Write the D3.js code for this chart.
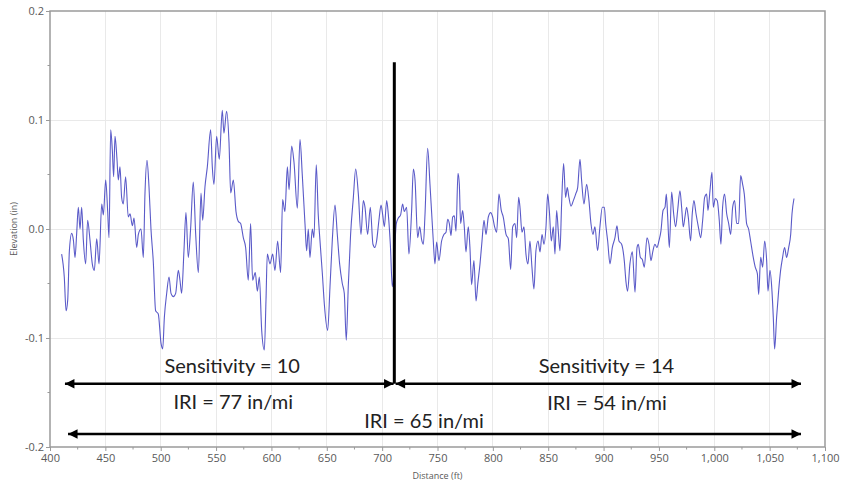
<!DOCTYPE html>
<html>
<head>
<meta charset="utf-8">
<script src="https://cdn.jsdelivr.net/npm/d3@7"></script>
<style>
  html, body { margin: 0; padding: 0; background: #fff; }
  svg { display: block; }
</style>
</head>
<body>
<svg id="chart" width="842" height="484"></svg>
<script>
// ---- Data ----
const distance = [
410.5,412.9,414.5,416.0,417.5,419.6,421.1,422.6,424.1,425.6,427.1,428.6,430.1,432.2,434.0,436.1,438.2,440.0,442.2,444.3,
446.7,448.2,450.3,452.1,453.3,454.8,456.3,457.5,458.7,460.5,461.7,463.2,464.7,466.2,468.3,470.7,472.3,474.4,475.9,478.3,
479.8,482.2,484.3,485.8,487.6,489.4,491.2,493.3,495.4,497.8,500.3,501.8,503.3,505.4,507.5,509.3,511.4,513.5,515.9,
517.4,518.9,521.0,522.8,524.9,527.0,529.4,531.6,534.0,536.4,537.9,540.0,542.1,545.1,546.6,548.1,550.5,552.9,555.6,557.1,
559.5,561.7,563.2,565.6,568.0,570.1,572.2,574.6,576.7,579.1,581.2,583.0,585.4,587.3,589.1,591.2,593.6,595.1,596.3,598.7,
601.1,603.2,605.6,608.3,610.1,612.2,614.4,615.9,618.3,620.4,623.4,625.8,627.9,
630.3,631.8,633.3,634.8,636.9,638.4,640.5,642.3,643.8,646.0,647.8,650.8,652.9,655.0,657.4,659.5,661.6,664.0,665.8,667.6,
669.4,671.5,674.0,676.1,678.5,680.9,683.0,684.5,686.9,689.3,691.7,693.5,695.0,697.1,699.0,700.5,702.0,704.1,705.6,707.4,
709.2,712.8,714.6,716.7,718.5,720.0,722.1,724.2,726.6,728.2,729.7,732.1,733.9,735.7,737.2,738.7,741.1,
743.2,744.7,746.2,747.7,749.2,751.3,753.7,755.8,757.7,759.2,760.7,762.2,763.7,765.2,766.7,768.5,769.7,770.9,772.7,774.2,
775.7,777.8,779.3,780.8,782.9,784.8,786.3,788.4,790.2,792.0,793.8,795.9,798.0,799.8,801.6,803.4,805.5,807.6,809.4,811.9,
814.0,816.1,817.9,820.0,821.5,823.3,824.5,826.3,828.1,829.9,831.7,833.5,835.3,837.1,838.9,840.8,842.6,844.4,846.2,848.0,
849.5,851.0,852.8,854.6,
856.1,857.6,859.1,860.6,862.1,863.9,865.7,867.2,868.7,870.6,872.7,874.8,876.6,878.7,880.2,882.3,884.7,886.8,888.6,890.4,
892.2,894.6,896.7,898.9,900.7,901.9,903.7,905.8,907.9,910.3,912.1,913.9,916.3,918.7,920.2,921.7,923.8,926.0,928.4,930.2,
931.4,933.2,935.0,936.8,939.2,941.0,942.8,944.6,946.4,948.2,950.0,951.8,953.7,955.5,956.7,957.9,959.4,961.5,963.3,965.1,
966.9,
969.0,970.5,972.0,973.5,975.0,976.5,978.6,980.1,981.6,983.5,985.6,987.7,989.5,991.3,993.1,994.3,996.1,997.9,999.1,1000.9,
1002.7,1004.5,1006.0,1007.5,1009.3,1011.2,1013.0,1014.8,1016.6,1018.4,1020.2,1022.0,1023.8,1025.6,1027.1,1029.2,1031.0,1032.8,1035.2,1037.0,
1038.9,1040.1,1041.9,1043.7,1045.5,1047.3,1048.5,1050.3,1052.1,1053.3,1054.5,1056.3,1058.1,1059.9,1061.7,1063.5,1065.3,1067.2,1069.0,1070.2,
1072.0
];
const elevation = [
-0.023,-0.044,-0.075,-0.065,-0.020,-0.004,-0.010,-0.026,-0.004,0.020,0.000,0.020,-0.010,-0.032,0.008,-0.010,-0.032,-0.038,-0.009,-0.032,
0.023,0.013,0.045,0.016,-0.008,0.091,0.072,0.048,0.085,0.064,0.045,0.057,0.029,0.023,0.048,0.011,0.014,0.003,0.010,-0.017,
-0.005,0.000,-0.026,0.033,0.063,0.039,0.000,-0.030,-0.075,-0.078,-0.105,-0.110,-0.081,-0.059,-0.044,-0.059,-0.062,-0.059,-0.038,
-0.047,-0.059,-0.020,0.015,-0.026,0.000,0.043,-0.005,-0.040,0.033,0.008,0.039,0.057,0.091,0.057,0.041,0.085,0.064,0.109,0.088,
0.108,0.079,0.033,0.045,0.016,0.007,0.005,-0.008,-0.017,-0.047,0.005,-0.047,-0.040,-0.057,-0.044,-0.093,-0.111,-0.065,-0.023,-0.032,
-0.023,-0.038,-0.011,-0.040,0.027,0.016,0.057,0.036,0.076,0.061,0.019,0.082,0.049,
0.005,-0.020,0.000,-0.026,0.000,-0.008,0.059,0.013,-0.010,-0.041,-0.069,-0.093,-0.053,-0.010,0.022,-0.005,-0.032,-0.050,-0.059,-0.102,
-0.053,-0.005,0.029,0.055,0.032,-0.005,0.026,0.020,-0.005,0.020,-0.014,-0.017,-0.011,0.008,0.022,0.013,0.002,0.026,0.013,-0.014,
-0.053,0.005,0.010,0.013,0.023,0.016,0.020,-0.023,0.016,0.055,0.045,-0.008,0.002,-0.010,-0.014,0.013,0.074,
0.041,0.015,-0.011,-0.032,-0.012,-0.029,-0.011,-0.005,-0.003,0.009,0.005,-0.006,0.011,0.012,-0.002,0.051,0.041,0.005,0.017,0.002,
-0.021,0.002,-0.017,-0.051,-0.029,-0.066,-0.051,-0.032,-0.011,0.008,-0.005,0.011,0.015,0.011,0.002,-0.003,0.032,0.017,0.011,-0.005,
-0.009,-0.037,0.002,0.005,-0.008,0.029,0.020,-0.003,0.002,-0.023,-0.032,-0.011,-0.035,-0.055,-0.020,-0.011,-0.021,-0.005,-0.014,0.002,
0.032,0.017,-0.011,0.002,
-0.023,0.017,-0.002,-0.020,0.023,0.060,0.029,0.038,0.029,0.021,0.026,0.032,0.038,0.064,0.044,0.023,0.041,0.026,0.005,-0.005,
0.002,-0.020,0.002,0.020,0.020,0.005,-0.011,-0.032,-0.017,-0.008,0.003,-0.011,-0.014,-0.029,-0.048,-0.057,-0.032,-0.021,-0.058,-0.017,
-0.014,-0.026,-0.028,-0.035,-0.008,-0.014,-0.029,-0.020,-0.014,-0.017,-0.011,-0.002,0.017,0.020,0.032,0.011,-0.017,0.034,0.014,0.002,
0.017,
0.035,0.020,0.002,0.011,0.020,0.011,-0.011,0.014,0.026,0.014,0.002,-0.008,0.008,0.029,0.032,0.017,0.035,0.052,0.020,0.028,
0.026,0.008,-0.014,0.020,0.032,0.014,0.005,-0.005,0.020,0.026,0.005,0.005,0.049,0.041,0.032,0.005,0.000,-0.011,-0.026,-0.035,
-0.041,-0.060,-0.026,-0.035,-0.011,-0.029,-0.057,-0.038,-0.057,-0.081,-0.110,-0.081,-0.057,-0.038,-0.026,-0.017,-0.026,-0.017,-0.005,0.014,
0.028
];

const xTicks = [400,450,500,550,600,650,700,750,800,850,900,950,1000,1050,1100];
const xTickLabels = ["400","450","500","550","600","650","700","750","800","850","900","950","1,000","1,050","1,100"];
const yTicks = [0.2,0.1,0.0,-0.1,-0.2];
const yTickLabels = ["0.2","0.1","0.0","-0.1","-0.2"];
const xAxisTitle = "Distance (ft)";
const yAxisTitle = "Elevation (in)";

// annotations (data units)
const splitDistance = 711;
const splitTop = 0.153;
const arrowRows = [
  { y: -0.142, from: 413.5, to: 710.3 },
  { y: -0.142, from: 1078.3, to: 712.2 }
];
const totalArrow = { y: -0.188, from: 416.3, to: 1078.3 };
const labels = [
  { text: "Sensitivity = 10", x: 564.5, y: -0.1325 },
  { text: "IRI = 77 in/mi",   x: 565.5, y: -0.1648 },
  { text: "IRI = 65 in/mi",   x: 737.8, y: -0.1825 },
  { text: "Sensitivity = 14", x: 902.6, y: -0.1322 },
  { text: "IRI = 54 in/mi",   x: 903.1, y: -0.1665 }
];

// ---- Layout ----
const W = 842, H = 484;
const margin = { top: 11, right: 17, bottom: 37, left: 50 };
const svg = d3.select("#chart");
const x = d3.scaleLinear().domain([400, 1100]).range([margin.left, W - margin.right]);
const y = d3.scaleLinear().domain([-0.2, 0.2]).range([H - margin.bottom, margin.top]);

const gridColor = "#e9e9e9";
const axisColor = "#9a9a9a";
const textColor = "#595959";

// grid
svg.append("g").selectAll("line.vg").data(xTicks.slice(1, -1)).join("line")
  .attr("x1", d => x(d)).attr("x2", d => x(d))
  .attr("y1", y(0.2)).attr("y2", y(-0.2))
  .attr("stroke", gridColor).attr("stroke-width", 1).attr("shape-rendering", "crispEdges");
svg.append("g").selectAll("line.hg").data(yTicks.slice(1, -1)).join("line")
  .attr("x1", x(400)).attr("x2", x(1100))
  .attr("y1", d => y(d)).attr("y2", d => y(d))
  .attr("stroke", gridColor).attr("stroke-width", 1).attr("shape-rendering", "crispEdges");

// frame
svg.append("rect")
  .attr("x", x(400)).attr("y", y(0.2))
  .attr("width", x(1100) - x(400)).attr("height", y(-0.2) - y(0.2))
  .attr("fill", "none").attr("stroke", axisColor).attr("stroke-width", 1.5);

// axes
const xAxis = d3.axisBottom(x).tickValues(xTicks)
  .tickFormat((d, i) => xTickLabels[i]).tickSize(4).tickPadding(3);
const gx = svg.append("g").attr("transform", `translate(0,${y(-0.2)})`).call(xAxis);
gx.select(".domain").remove();
gx.selectAll(".tick line").attr("stroke", axisColor);
gx.selectAll(".tick text").attr("fill", textColor)
  .style("font-family", "'Open Sans', 'Noto Sans', sans-serif").style("font-size", "11px");

const yAxis = d3.axisLeft(y).tickValues(yTicks)
  .tickFormat((d, i) => yTickLabels[i]).tickSize(4).tickPadding(2);
const gy = svg.append("g").attr("transform", `translate(${x(400)},0)`).call(yAxis);
gy.select(".domain").remove();
gy.selectAll(".tick line").attr("stroke", axisColor);
gy.selectAll(".tick text").attr("fill", textColor)
  .style("font-family", "'Open Sans', 'Noto Sans', sans-serif").style("font-size", "11px");

// minor ticks
const minorX = d3.range(425, 1100, 50);
svg.append("g").selectAll("line").data(minorX).join("line")
  .attr("x1", d => x(d)).attr("x2", d => x(d))
  .attr("y1", y(-0.2)).attr("y2", y(-0.2) + 2.5)
  .attr("stroke", axisColor);
const minorY = [0.15, 0.05, -0.05, -0.15];
svg.append("g").selectAll("line").data(minorY).join("line")
  .attr("x1", x(400) - 2.5).attr("x2", x(400))
  .attr("y1", d => y(d)).attr("y2", d => y(d))
  .attr("stroke", axisColor);

// axis titles
svg.append("text").attr("x", (x(400) + x(1100)) / 2).attr("y", H - 5)
  .attr("text-anchor", "middle").attr("fill", textColor)
  .style("font-family", "'Open Sans', 'Noto Sans', sans-serif").style("font-size", "9px")
  .text(xAxisTitle);
svg.append("text")
  .attr("transform", `translate(17,${(y(0.2) + y(-0.2)) / 2}) rotate(-90)`)
  .attr("text-anchor", "middle").attr("fill", textColor)
  .style("font-family", "'Open Sans', 'Noto Sans', sans-serif").style("font-size", "9px")
  .text(yAxisTitle);

// profile line
const pts = distance.map((d, i) => [d, elevation[i]]);
const line = d3.line().x(d => x(d[0])).y(d => y(d[1])).curve(d3.curveMonotoneX);
svg.append("path").datum(pts)
  .attr("d", line).attr("fill", "none")
  .attr("stroke", "#4848c2").attr("stroke-width", 1.1).attr("stroke-linejoin", "round")
  .attr("stroke-opacity", 0.9);

// split bar
svg.append("line")
  .attr("x1", x(splitDistance)).attr("x2", x(splitDistance))
  .attr("y1", y(splitTop)).attr("y2", y(arrowRows[0].y))
  .attr("stroke", "#000").attr("stroke-width", 3);

// arrows
svg.append("defs").append("marker")
  .attr("id", "head").attr("viewBox", "0 0 10 10")
  .attr("refX", 10).attr("refY", 5)
  .attr("markerWidth", 4.4).attr("markerHeight", 3.8)
  .attr("markerUnits", "strokeWidth").attr("orient", "auto-start-reverse")
  .append("path").attr("d", "M0,0 L10,5 L0,10 Z").attr("fill", "#000");

[arrowRows[0], arrowRows[1], totalArrow].forEach(a => {
  svg.append("line")
    .attr("x1", x(a.from)).attr("x2", x(a.to))
    .attr("y1", y(a.y)).attr("y2", y(a.y))
    .attr("stroke", "#000").attr("stroke-width", 2.5)
    .attr("marker-start", "url(#head)").attr("marker-end", "url(#head)");
});

// labels
svg.append("g").selectAll("text").data(labels).join("text")
  .attr("x", d => x(d.x)).attr("y", d => y(d.y))
  .attr("text-anchor", "middle").attr("fill", "#222")
  .style("font-family", "Lato, 'Noto Sans', sans-serif").style("font-size", "20px")
  .text(d => d.text);
</script>
</body>
</html>
